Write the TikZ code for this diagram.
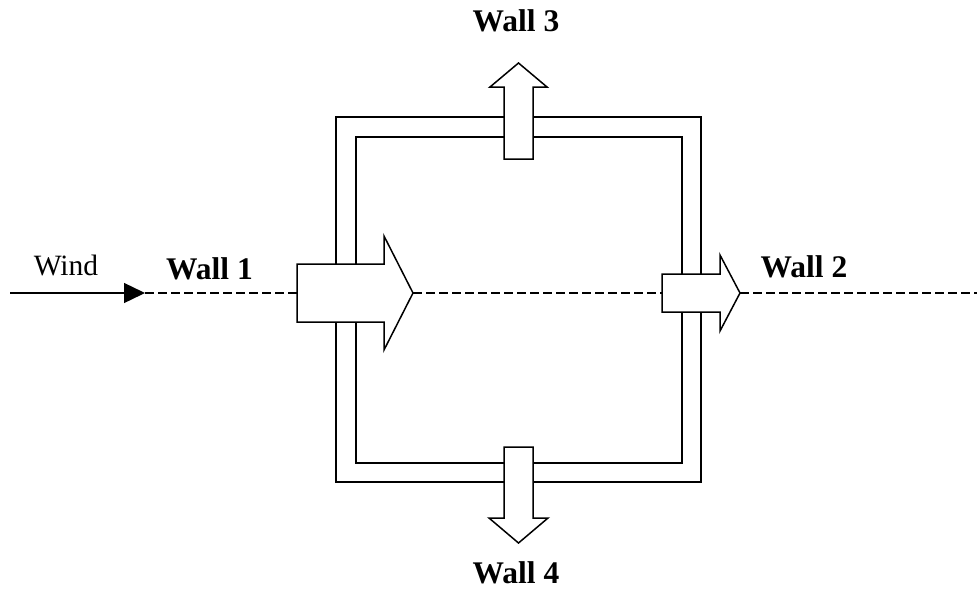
\documentclass[tikz,border=0pt]{standalone}
\usepackage{fontspec}
\setmainfont{Liberation Serif}
\usetikzlibrary{arrows.meta}
\begin{document}
\begin{tikzpicture}[x=1pt,y=-1pt,
  wall/.style={line width=1.5pt},
  blockarrow/.style={line width=1.5pt,fill=white,line join=miter},
  axisline/.style={line width=1.4pt,dash pattern=on 8.5pt off 4.5pt},
  lbl/.style={anchor=base,inner sep=0pt,font=\fontsize{29.5}{35}\selectfont},
  boldlbl/.style={lbl,font=\fontsize{31.5}{37}\selectfont\bfseries}]
\useasboundingbox (0,0) rectangle (977,592);

% key points along the wind axis
\coordinate (start) at (10,293);
\coordinate (windtip) at (145,293);
\coordinate (w1tail) at (297,293);
\coordinate (w1tip) at (413,293);
\coordinate (w2tail) at (662,293);
\coordinate (w2tip) at (740,293);
\coordinate (axisend) at (977,293);

% wind arrow and the dashed axis through the building
\draw[line width=1.4pt,-{Triangle[length=21pt,width=20pt]}] (start) -- (windtip);
\draw[axisline] (windtip) -- (w1tail);
\draw[axisline] (w1tip) -- (w2tail);
\draw[axisline] (w2tip) -- (axisend);

% double wall of the building
\draw[wall] (336,117) rectangle (701,482);
\draw[wall] (356,137) rectangle (682,463);

% pressure arrows on the four walls
\draw[blockarrow] (297,264) -- (384,264) -- (384,236) -- (w1tip) -- (384,350) -- (384,322) -- (297,322) -- cycle;
\draw[blockarrow] (662,274) -- (720,274) -- (720,255) -- (w2tip) -- (720,331) -- (720,312) -- (662,312) -- cycle;
\draw[blockarrow] (504,159) -- (504,87) -- (490,87) -- (518.5,63) -- (547,87) -- (533,87) -- (533,159) -- cycle;
\draw[blockarrow] (504,447) -- (504,518) -- (489,518) -- (518.5,543) -- (548,518) -- (533,518) -- (533,447) -- cycle;

% labels
\node[lbl] (wind) at (66,275) {Wind};
\node[boldlbl] (wall1) at (209.5,279) {Wall 1};
\node[boldlbl] (wall2) at (804,277) {Wall 2};
\node[boldlbl] (wall3) at (516,31) {Wall 3};
\node[boldlbl] (wall4) at (516,583) {Wall 4};
\end{tikzpicture}
\end{document}
